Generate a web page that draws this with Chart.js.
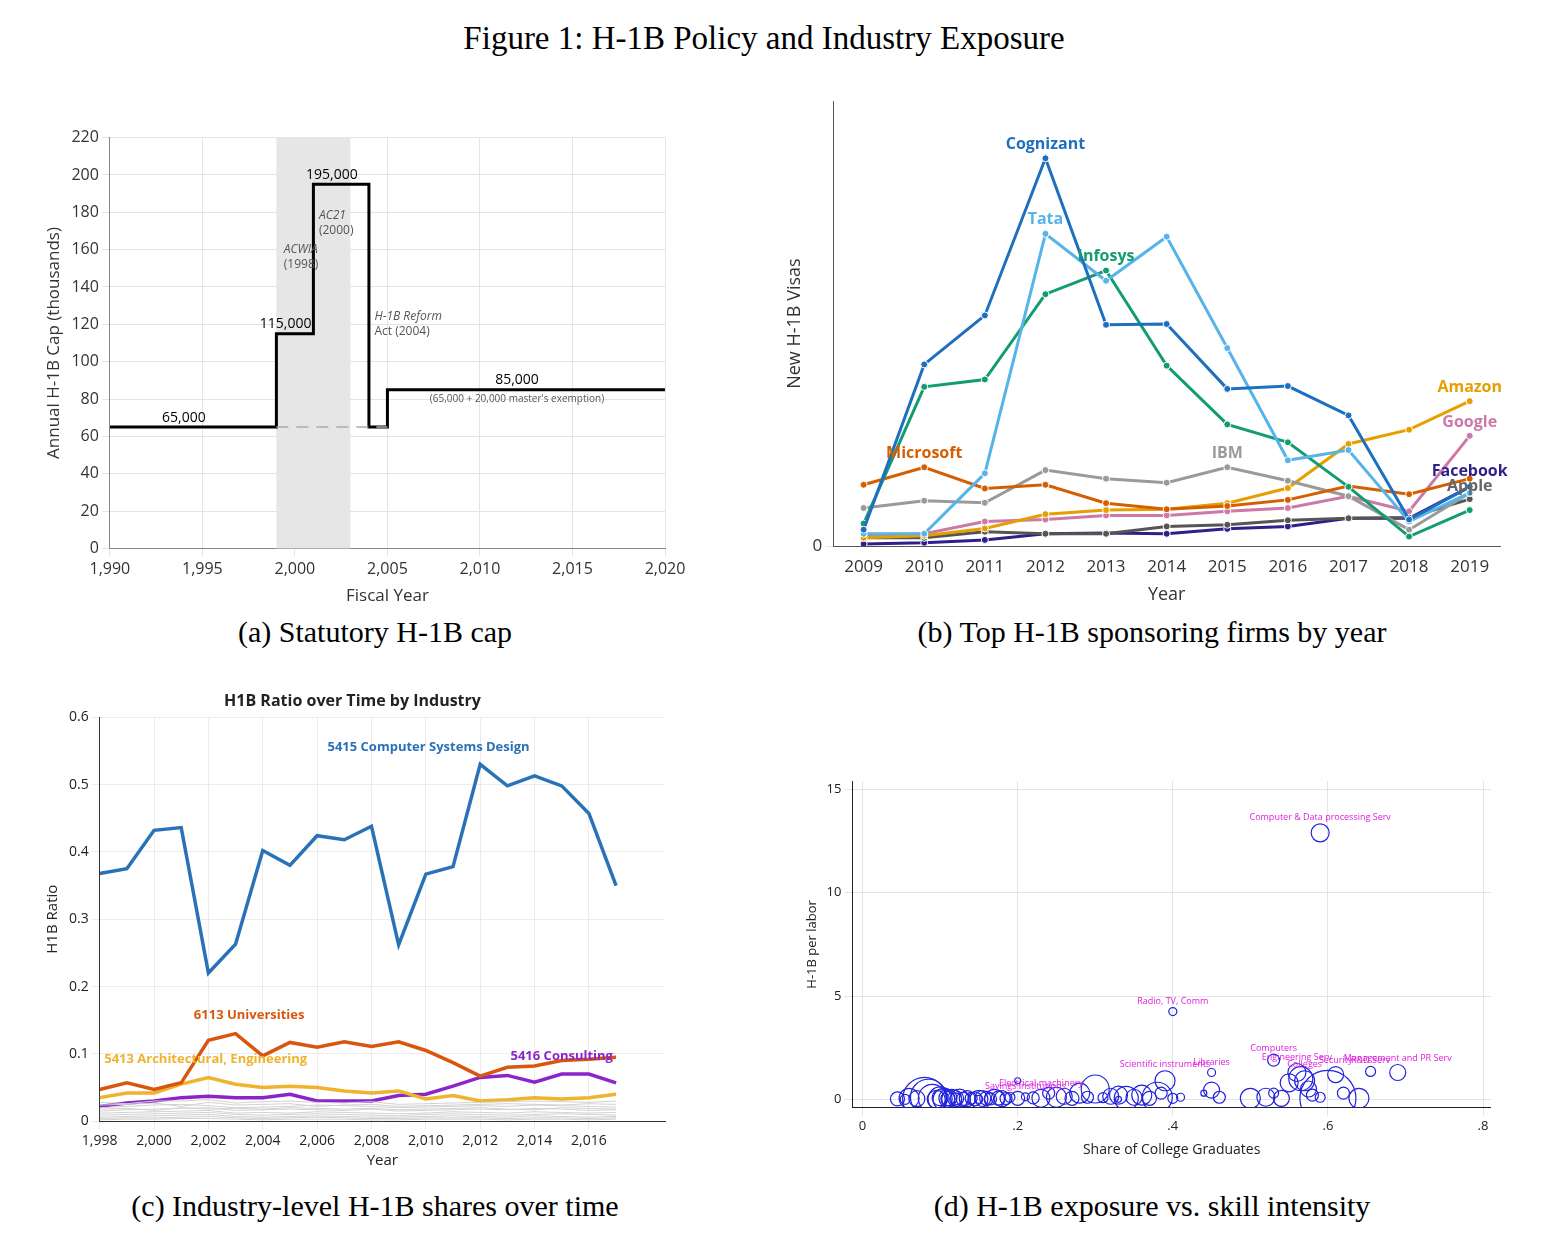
<!DOCTYPE html>
<html><head><meta charset="utf-8">
<script src="https://cdn.jsdelivr.net/npm/chart.js@4/dist/chart.umd.min.js"></script>
<style>
body{margin:0;width:1564px;height:1260px;background:#fff;position:relative;font-family:"Liberation Serif","DejaVu Serif",serif;}
.t{position:absolute;text-align:center;color:#000;}
canvas{position:absolute;}
.w{position:absolute;}
</style></head><body>
<div class="t" style="left:0;width:1528px;top:20px;font-size:33px;">Figure 1: H-1B Policy and Industry Exposure</div>
<div class="t" style="left:75px;width:600px;top:615px;font-size:30px;">(a) Statutory H-1B cap</div>
<div class="t" style="left:852px;width:600px;top:615px;font-size:30px;">(b) Top H-1B sponsoring firms by year</div>
<div class="t" style="left:75px;width:600px;top:1189px;font-size:30px;">(c) Industry-level H-1B shares over time</div>
<div class="t" style="left:852px;width:600px;top:1189px;font-size:30px;">(d) H-1B exposure vs. skill intensity</div>
<div class="w" style="left:40px;top:125px;width:650px;height:485px;"><canvas id="ca"></canvas></div>
<div class="w" style="left:780px;top:88px;width:750px;height:522px;"><canvas id="cb"></canvas></div>
<div class="w" style="left:40px;top:690px;width:650px;height:480px;"><canvas id="cc"></canvas></div>
<div class="w" style="left:800px;top:752px;width:720px;height:410px;"><canvas id="cd"></canvas></div>
<script>
// ---------- data ----------
const capYears = [1990,1999,1999,2001,2001,2004,2004,2005,2005,2020];
const capValues = [65,65,115,115,195,195,65,65,85,85];

const firmYears = ['2009','2010','2011','2012','2013','2014','2015','2016','2017','2018','2019'];
const cognizant = [400,4450,5650,9500,5420,5440,3850,3920,3200,650,1450];
const tata      = [300,300,1780,7650,6500,7580,4850,2100,2350,600,1300];
const infosys   = [550,3900,4080,6170,6750,4420,2980,2540,1450,230,880];
const microsoft = [1500,1930,1410,1500,1050,900,980,1130,1470,1270,1650];
const ibm       = [930,1110,1060,1860,1650,1550,1930,1600,1220,400,1300];
const amazon    = [200,250,430,780,880,900,1050,1420,2500,2850,3550];
const google    = [260,300,600,650,750,750,850,930,1220,850,2700];
const apple     = [200,200,350,300,300,480,520,630,680,700,1150];
const facebook  = [50,80,150,300,320,300,420,480,680,680,1450];

const indYears = [1998,1999,2000,2001,2002,2003,2004,2005,2006,2007,2008,2009,2010,2011,2012,2013,2014,2015,2016,2017];
const compSys = [.368,.375,.432,.436,.22,.263,.402,.38,.424,.418,.438,.262,.367,.378,.53,.498,.513,.498,.457,.35];
const univ    = [.047,.057,.047,.057,.12,.13,.097,.117,.11,.118,.111,.118,.105,.087,.067,.08,.082,.09,.092,.095];
const archEng = [.035,.042,.042,.055,.065,.055,.05,.052,.05,.045,.042,.045,.033,.038,.03,.032,.035,.033,.035,.04];
const consult = [.022,.027,.03,.035,.037,.035,.035,.04,.03,.03,.03,.038,.04,.052,.065,.068,.058,.07,.07,.057];
const greyInd = [
 [.028,.026,.03,.03,.032,.027,.029,.03,.028,.027,.029,.025,.026,.027,.028,.029,.03,.029,.028,.03],
 [.02,.022,.024,.025,.023,.02,.021,.022,.024,.023,.022,.02,.021,.022,.023,.022,.024,.023,.022,.021],
 [.015,.017,.018,.019,.02,.016,.017,.018,.017,.016,.018,.015,.016,.017,.018,.017,.019,.018,.016,.017],
 [.012,.013,.014,.015,.016,.012,.013,.012,.014,.013,.012,.011,.012,.014,.013,.012,.014,.013,.012,.013],
 [.009,.01,.011,.012,.013,.01,.009,.01,.011,.01,.009,.008,.01,.011,.01,.009,.01,.011,.01,.009],
 [.006,.007,.008,.009,.01,.007,.006,.007,.008,.007,.006,.006,.007,.008,.007,.006,.008,.007,.006,.007],
 [.004,.005,.005,.006,.007,.005,.004,.005,.006,.005,.004,.004,.005,.005,.005,.004,.005,.005,.004,.005],
 [.002,.003,.003,.004,.004,.003,.002,.003,.003,.003,.002,.002,.003,.003,.003,.002,.003,.003,.002,.003],
 [.024,.025,.027,.022,.028,.024,.025,.026,.022,.024,.025,.022,.023,.024,.025,.026,.025,.024,.026,.025],
 [.018,.019,.016,.02,.018,.019,.018,.02,.019,.018,.019,.017,.018,.019,.02,.018,.017,.02,.019,.018]
];

const indShare = [.045,.055,.06,.07,.08,.085,.09,.095,.1,.1,.105,.11,.11,.115,.12,.12,.125,.13,.135,.14,.145,.15,.155,.16,.165,.17,.175,.18,.185,.19,.2,.21,.22,.23,.24,.25,.26,.27,.28,.29,.3,.31,.32,.33,.34,.35,.36,.37,.38,.385,.39,.4,.41,.45,.45,.46,.5,.52,.53,.53,.54,.55,.56,.565,.57,.575,.58,.59,.6,.61,.62,.64,.655,.69,.59,.40,.44,.2,.15,.33];
const indH1b  = [.02,.0,.05,.03,.0,.1,.05,.0,.02,.08,.0,.03,.05,.0,.04,.02,.06,.0,.03,.05,.02,.0,.04,.05,.02,.0,.06,.03,.04,.1,.05,.12,.07,.05,.3,.1,.15,.05,.3,.1,.5,.08,.15,.2,.05,.1,.2,.05,.1,.3,.9,.05,.1,.45,1.3,.1,.05,.1,1.9,.3,.05,.8,1.3,1,.9,.5,.2,.1,.05,1.2,.3,.05,1.35,1.3,12.9,4.25,.3,.9,.0,.0];
const indSize = [7,5,10,8,22,18,14,9,12,8,11,7,9,10,8,6,9,7,8,6,7,9,8,7,6,10,7,8,6,5,7,4,6,9,6,10,8,7,10,6,14,5,8,9,12,8,10,7,15,6,10,5,4,8,4,6,10,9,6,5,8,9,9,12,10,8,6,5,28,8,6,10,5,8,9,4,3,3,4,3];
const indLabels = {74:'Computer & Data processing Serv',75:'Radio, TV, Comm',58:'Computers',62:'Engineering Serv',54:'Libraries',50:'Scientific instruments',73:'Management and PR Serv',72:'R&D Serv',69:'Security',64:'Colleges',33:'Electrical machinery',31:'Savings institutions'};

// ---------- helpers ----------
const sans = '"Open Sans","DejaVu Sans",sans-serif';
Chart.defaults.font.family = sans;
Chart.defaults.color = '#222';
Chart.defaults.animation = false;
function textPlugin(items){
  return {id:'txt'+Math.random(),afterDatasetsDraw(ch){
    const c=ch.ctx; const xs=ch.scales.x, ys=ch.scales.y;
    items.forEach(it=>{
      c.save(); c.font=it.font; c.fillStyle=it.color; c.textAlign=it.align||'center'; c.textBaseline='middle';
      const px = typeof it.x==='string'? xs.getPixelForValue(firmYears.indexOf(it.x)) : xs.getPixelForValue(it.x);
      c.fillText(it.text, px+(it.dx||0), ys.getPixelForValue(it.y)+(it.dy||0)); c.restore();
    });
  }};
}

// ---------- panel a ----------
const shade = {id:'shade',beforeDatasetsDraw(ch){
  const c=ch.ctx,x=ch.scales.x,y=ch.scales.y;
  c.save(); c.fillStyle='#e6e6e6';
  c.fillRect(x.getPixelForValue(1999),y.top,x.getPixelForValue(2003)-x.getPixelForValue(1999),y.bottom-y.top); c.restore();
}};
new Chart(document.getElementById('ca'),{type:'scatter',
 data:{datasets:[
  {data:[{x:1999,y:65},{x:2005,y:65}],showLine:true,borderColor:'#aaa',borderDash:[12,8],borderWidth:1.5,pointRadius:0},
  {data:capYears.map((x,i)=>({x,y:capValues[i]})),showLine:true,borderColor:'#000',borderWidth:3,pointRadius:0}
 ]},
 options:{responsive:true,maintainAspectRatio:false,layout:{padding:{right:25,top:4}},
  plugins:{legend:{display:false},tooltip:{enabled:false}},
  scales:{
   x:{min:1990,max:2020,ticks:{stepSize:5,font:{size:16},color:'#333'},grid:{color:'#e5e5e5'},border:{color:'#888'},
      title:{display:true,text:'Fiscal Year',font:{size:17},color:'#333'}},
   y:{min:0,max:220,ticks:{stepSize:20,font:{size:16},color:'#333'},grid:{color:'#e5e5e5'},border:{color:'#888'},
      title:{display:true,text:'Annual H-1B Cap (thousands)',font:{size:17},color:'#333'}}
  }},
 plugins:[shade,textPlugin([
  {x:1994,y:70,text:'65,000',font:'14px '+sans,color:'#000'},
  {x:1999.5,y:120,text:'115,000',font:'14px '+sans,color:'#000'},
  {x:2002,y:200,text:'195,000',font:'14px '+sans,color:'#000'},
  {x:2012,y:90,text:'85,000',font:'14px '+sans,color:'#000'},
  {x:2012,y:80,text:"(65,000 + 20,000 master's exemption)",font:'10px '+sans,color:'#555'},
  {x:2001.3,y:178,text:'AC21',font:'italic 12px '+sans,color:'#555',align:'left'},
  {x:2001.3,y:170,text:'(2000)',font:'12px '+sans,color:'#555',align:'left'},
  {x:1999.4,y:160,text:'ACWIA',font:'italic 12px '+sans,color:'#555',align:'left'},
  {x:1999.4,y:152,text:'(1998)',font:'12px '+sans,color:'#555',align:'left'},
  {x:2004.3,y:124,text:'H-1B Reform',font:'italic 12px '+sans,color:'#555',align:'left'},
  {x:2004.3,y:116,text:'Act (2004)',font:'12px '+sans,color:'#555',align:'left'}
 ])]});

// ---------- panel b ----------
const firms=[['Cognizant',cognizant,'#1f6fbf'],['Tata',tata,'#56b4e9'],['Infosys',infosys,'#139c72'],['Microsoft',microsoft,'#d55e00'],
 ['IBM',ibm,'#9a9a9a'],['Amazon',amazon,'#e69f00'],['Google',google,'#cc79a7'],['Apple',apple,'#555555'],['Facebook',facebook,'#2e1f8a']];
new Chart(document.getElementById('cb'),{type:'line',
 data:{labels:firmYears,datasets:firms.map(f=>({label:f[0],data:f[1],borderColor:f[2],backgroundColor:f[2],borderWidth:3,
   pointRadius:3.5,pointBorderColor:'#fff',pointBorderWidth:1,tension:0}))},
 options:{responsive:true,maintainAspectRatio:false,layout:{padding:{right:30}},
  plugins:{legend:{display:false},tooltip:{enabled:false}},
  scales:{
   x:{offset:true,grid:{display:false},border:{color:'#555'},ticks:{font:{size:17},color:'#333'},
      title:{display:true,text:'Year',font:{size:18},color:'#333'}},
   y:{min:0,max:10900,afterBuildTicks:s=>{s.ticks=s.ticks.filter(t=>t.value%1000===0);},
      ticks:{stepSize:1000,font:{size:17},color:'#333'},grid:{color:'#e6e6e6'},border:{color:'#555'},
      title:{display:true,text:'New H-1B Visas',font:{size:18},color:'#333'}}
  }},
 plugins:[textPlugin([
  {x:'2012',y:9850,text:'Cognizant',font:'bold 16px '+sans,color:'#1f6fbf'},
  {x:'2012',y:8000,text:'Tata',font:'bold 16px '+sans,color:'#56b4e9'},
  {x:'2013',y:7100,text:'Infosys',font:'bold 16px '+sans,color:'#139c72'},
  {x:'2010',y:2260,text:'Microsoft',font:'bold 16px '+sans,color:'#d55e00'},
  {x:'2015',y:2270,text:'IBM',font:'bold 16px '+sans,color:'#9a9a9a'},
  {x:'2019',y:3880,text:'Amazon',font:'bold 16px '+sans,color:'#e69f00'},
  {x:'2019',y:3020,text:'Google',font:'bold 16px '+sans,color:'#cc79a7'},
  {x:'2019',y:1830,text:'Facebook',font:'bold 16px '+sans,color:'#2e1f8a'},
  {x:'2019',y:1450,text:'Apple',font:'bold 16px '+sans,color:'#666'}
 ])]});

// ---------- panel c ----------
const cDs = greyInd.map(g=>({data:g.map((v,i)=>({x:indYears[i],y:v})),borderColor:'#d2d2d2',borderWidth:1,pointRadius:0}));
[[compSys,'#2a72b8'],[univ,'#d9560e'],[archEng,'#efb32e'],[consult,'#8b24c9']].forEach(s=>cDs.push(
  {data:s[0].map((v,i)=>({x:indYears[i],y:v})),borderColor:s[1],borderWidth:3.5,pointRadius:0}));
new Chart(document.getElementById('cc'),{type:'scatter',
 data:{datasets:cDs.map(d=>Object.assign(d,{showLine:true}))},
 options:{responsive:true,maintainAspectRatio:false,layout:{padding:{right:25}},
  plugins:{legend:{display:false},tooltip:{enabled:false},
   title:{display:true,text:'H1B Ratio over Time by Industry',font:{size:16,weight:'bold'},color:'#222',padding:{top:2,bottom:6}}},
  scales:{
   x:{min:1998,max:2018.8,afterBuildTicks:s=>{s.ticks=s.ticks.filter(t=>t.value%2===0);},ticks:{stepSize:2,font:{size:14},color:'#222'},
      grid:{color:'#ececec'},border:{color:'#333'},title:{display:true,text:'Year',font:{size:15},color:'#222',padding:0}},
   y:{min:0,max:0.6,ticks:{stepSize:0.1,font:{size:14},color:'#222',callback:v=>v===0?'0':v.toFixed(1)},
      grid:{color:'#ececec'},border:{color:'#333'},title:{display:true,text:'H1B Ratio',font:{size:15},color:'#222'}}
  }},
 plugins:[textPlugin([
  {x:2010.1,y:0.556,text:'5415 Computer Systems Design',font:'bold 13px '+sans,color:'#2a72b8'},
  {x:2003.5,y:0.158,text:'6113 Universities',font:'bold 13px '+sans,color:'#d9560e'},
  {x:2001.9,y:0.092,text:'5413 Architectural, Engineering',font:'bold 13px '+sans,color:'#efb32e'},
  {x:2015,y:0.097,text:'5416 Consulting',font:'bold 13px '+sans,color:'#8b24c9'}
 ])]});

// ---------- panel d ----------
const dPts = indShare.map((x,i)=>({x,y:indH1b[i],r:indSize[i]}));
new Chart(document.getElementById('cd'),{type:'bubble',
 data:{datasets:[{data:dPts,borderColor:'#2222dd',backgroundColor:'rgba(0,0,0,0)',borderWidth:1.2}]},
 options:{responsive:true,maintainAspectRatio:false,layout:{padding:{right:20}},
  plugins:{legend:{display:false},tooltip:{enabled:false}},
  scales:{
   x:{min:-0.013,max:0.81,afterBuildTicks:s=>{s.ticks=[0,.2,.4,.6,.8].map(v=>({value:v}));},
      ticks:{font:{size:13},color:'#222',callback:v=>v===0?'0':String(v).replace('0.','.')},
      grid:{color:'#e4e4e4',drawTicks:true},border:{color:'#222'},title:{display:true,text:'Share of College Graduates',font:{size:14},color:'#222'}},
   y:{min:-0.4,max:15.4,afterBuildTicks:s=>{s.ticks=[0,5,10,15].map(v=>({value:v}));},
      ticks:{font:{size:13},color:'#222'},grid:{color:'#e4e4e4'},border:{color:'#222'},
      title:{display:true,text:'H-1B per labor',font:{size:13},color:'#222'}}
  }},
 plugins:[textPlugin(Object.keys(indLabels).map(k=>({x:indShare[k],y:indH1b[k],dy:-indSize[k]-6,text:indLabels[k],font:'9px '+sans,color:'#e020e0'})))]});
</script>
</body></html>
